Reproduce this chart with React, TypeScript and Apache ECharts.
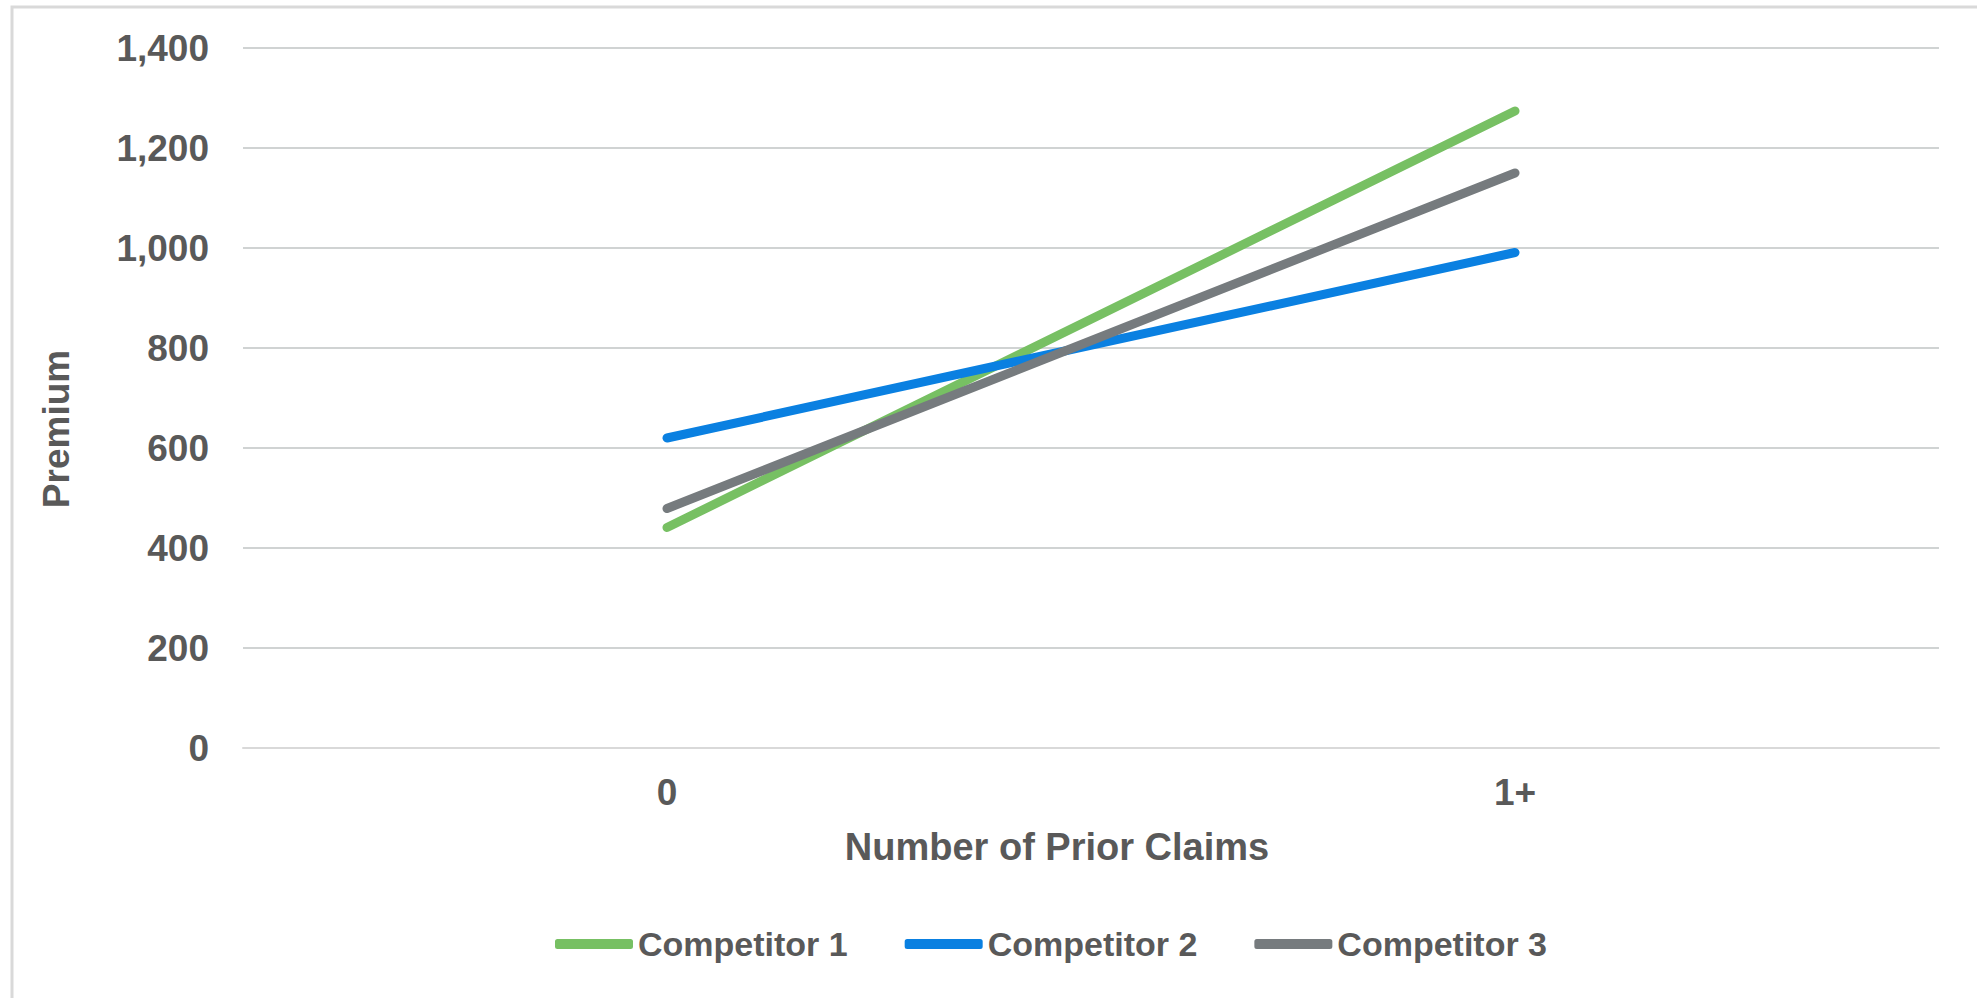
import React, { useEffect, useRef } from "react";
import * as echarts from "echarts";

const categories = ["0", "1+"];
const competitor1 = [441, 1274];
const competitor2 = [620, 991];
const competitor3 = [479, 1150];
const seriesNames = ["Competitor 1", "Competitor 2", "Competitor 3"];
const seriesColors = ["#77C063", "#0A80E1", "#767B7E"];
const yTicks = { min: 0, max: 1400, interval: 200 };

const FONT = "'Liberation Sans', Arial, sans-serif";
const TEXT = "#595959";

export default function App() {
  const ref = useRef<HTMLDivElement>(null);
  useEffect(() => {
    if (!ref.current) return;
    const chart = echarts.init(ref.current, undefined, { renderer: "svg" });
    const data = [competitor1, competitor2, competitor3];
    chart.setOption({
      animation: false,
      backgroundColor: "#ffffff",
      textStyle: { fontFamily: FONT },
      graphic: [
        {
          type: "rect",
          shape: { x: 12, y: 7, width: 2100, height: 1100 },
          style: { fill: "none", stroke: "#D9D9D9", lineWidth: 3 },
          silent: true,
          z: -1,
        },
      ],
      grid: { left: 243, right: 38, top: 48, bottom: 250, containLabel: false },
      legend: {
        data: seriesNames,
        left: 550,
        top: 922,
        itemWidth: 78,
        itemHeight: 10,
        itemGap: 57,
        icon: "roundRect",
        textStyle: { color: TEXT, fontSize: 34, fontWeight: "bold", fontFamily: FONT },
      },
      xAxis: {
        type: "category",
        data: categories,
        boundaryGap: true,
        name: "Number of Prior Claims",
        nameLocation: "middle",
        nameGap: 80,
        nameTextStyle: {
          color: TEXT,
          fontSize: 38,
          fontWeight: "bold",
          fontFamily: FONT,
          padding: [0, 68, 0, 0],
        },
        axisLine: { show: true, lineStyle: { color: "#D9D9D9", width: 2 } },
        axisTick: { show: false },
        axisLabel: { color: TEXT, fontSize: 37, fontWeight: "bold", margin: 26, fontFamily: FONT },
      },
      yAxis: {
        type: "value",
        min: yTicks.min,
        max: yTicks.max,
        interval: yTicks.interval,
        name: "Premium",
        nameLocation: "middle",
        nameGap: 168,
        nameTextStyle: {
          color: TEXT,
          fontSize: 37,
          fontWeight: "bold",
          fontFamily: FONT,
          padding: [0, 62, 0, 0],
        },
        axisLine: { show: false },
        axisTick: { show: false },
        splitLine: { lineStyle: { color: "#D0D3D3", width: 2 } },
        axisLabel: {
          color: TEXT,
          fontSize: 37,
          fontWeight: "bold",
          margin: 34,
          fontFamily: FONT,
          formatter: (v: number) => v.toLocaleString("en-US"),
        },
      },
      series: seriesNames.map((name, i) => ({
        name,
        type: "line",
        data: data[i],
        symbol: "none",
        color: seriesColors[i],
        lineStyle: { width: 9, color: seriesColors[i], cap: "round" },
      })),
    });
    return () => chart.dispose();
  }, []);
  return (
    <div
      ref={ref}
      style={{ position: "absolute", left: 0, top: 0, width: 1977, height: 998 }}
    />
  );
}
